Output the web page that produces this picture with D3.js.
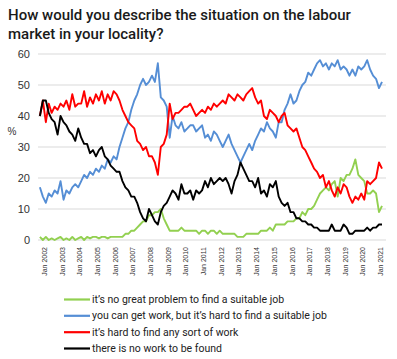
<!DOCTYPE html>
<html>
<head>
<meta charset="utf-8">
<script src="https://cdn.jsdelivr.net/npm/d3@7"></script>
<style>
  html, body { margin: 0; padding: 0; background: #fff; }
  svg { display: block; }
</style>
</head>
<body>
<svg id="chart" width="397" height="359"></svg>
<script>
// Bi-monthly observations, Oct 2001 .. Feb 2021
const startDate = new Date(2001, 9, 1);
const stepMonths = 2;

const greenNoProblem = [
  1, 0,
  1, 0, 0.5, 0, 0.5, 1,
  0, 0.5, 0, 1, 0, 0.5,
  1, 0, 1, 0.5, 1, 1,
  0.5, 1, 1, 0.5, 1, 1,
  1, 1, 1, 2, 2, 3,
  3, 4, 5, 6, 6, 8,
  8, 9, 9, 10, 7, 5,
  3, 3, 3, 3, 4, 3,
  3, 3, 3, 3, 2, 3,
  3, 2, 3, 3, 2, 3,
  2, 2, 2, 2, 2, 1,
  1, 1, 2, 2, 2, 2,
  2, 3, 3, 3, 4, 3,
  5, 5, 5, 5, 6, 6,
  6, 7, 7, 9, 8, 10,
  10, 11, 13, 15, 16, 17,
  16, 18, 19, 14, 20, 19,
  21, 21, 23, 26, 21, 20,
  19, 15, 15, 16, 15, 9,
  11
];

const blueHardSuitable = [
  17, 14,
  12, 15, 14, 16, 15, 19,
  13, 16, 15, 17, 18, 17,
  19, 21, 20, 22, 21, 23,
  22, 24, 23, 26, 25, 27,
  26, 30, 33, 36, 38, 42,
  45, 47, 50, 52, 50, 51,
  53, 51, 57, 46, 45, 43,
  33, 40, 37, 36, 38, 35,
  36, 37, 37, 35, 36, 37,
  33, 34, 32, 35, 34, 32,
  30, 32, 34, 31, 29, 27,
  25, 27, 29, 31, 29, 32,
  34, 36, 35, 38, 36, 35,
  33, 38, 38, 42, 44, 47,
  44, 45, 48, 50, 51, 54,
  53, 55, 57, 58, 56, 57,
  55, 57, 56, 58, 55, 56,
  55, 53, 55, 53, 56, 55,
  56, 58, 55, 53, 52, 49,
  51
];

const redHardAny = [
  40, 45,
  38, 44, 41, 43, 42, 44,
  43, 45, 42, 47, 43, 44,
  44, 48, 43, 46, 44, 47,
  45, 48, 44, 47, 45, 48,
  47, 45, 42, 40, 38, 37,
  36, 32, 31, 29, 30, 27,
  27, 25, 21, 30, 31, 34,
  44, 39, 41, 41, 42, 43,
  43, 44, 42, 40, 41, 42,
  41, 43, 42, 44, 43, 44,
  45, 44, 47, 46, 45, 47,
  46, 45, 47, 48, 49, 46,
  44, 45, 40, 39, 42, 41,
  40, 38, 40, 41, 37, 36,
  35, 36, 33, 30, 29, 27,
  25, 23, 22, 20, 21, 17,
  19, 16, 14, 17, 15, 18,
  17, 14, 12, 14, 13, 15,
  13, 19, 18, 19, 20, 25,
  23
];

const blackNoWork = [
  40, 45,
  45, 41, 39, 38, 34, 40,
  38, 37, 35, 34, 32, 36,
  33, 31, 31, 28, 29, 27,
  29, 30, 27, 26, 24, 23,
  22, 22, 19, 17, 16, 14,
  14, 12, 9, 7, 6, 10,
  8, 6, 5, 9, 11, 12,
  14, 16, 15, 13, 18, 15,
  15, 16, 13, 16, 15, 16,
  19, 17, 20, 18, 19, 20,
  19, 20, 18, 15, 19, 21,
  25, 23, 21, 19, 19, 17,
  20, 15, 16, 14, 18, 17,
  19, 14, 12, 11, 12, 9,
  9, 7, 7, 6, 6, 5,
  5, 4, 4, 3, 3, 3,
  3, 5, 3, 3, 3, 5,
  4, 2, 2, 3, 3, 3,
  3, 4, 3, 4, 4, 5,
  5
];

const yTicks = [0, 10, 20, 30, 40, 50, 60];
const xTickYears = d3.range(2002, 2022);
const xTickLabels = xTickYears.map(y => "Jan " + y);

const seriesNames = [
  "it\u2019s no great problem to find a suitable job",
  "you can get work, but it\u2019s hard to find a suitable job",
  "it\u2019s hard to find any sort of work",
  "there is no work to be found"
];
const seriesColors = ["#92D050", "#558ED5", "#FF0000", "#000000"];
const seriesValues = [greenNoProblem, blueHardSuitable, redHardAny, blackNoWork];

const svg = d3.select("#chart");
const fontFamily = "Roboto, 'Liberation Sans', Arial, sans-serif";

// Title
const title = svg.append("text")
  .attr("x", 8).attr("y", 20)
  .attr("font-family", fontFamily)
  .attr("font-size", 15).attr("font-weight", 500)
  .attr("fill", "#1a1a1a");
title.append("tspan").attr("x", 8).attr("y", 20).text("How would you describe the situation on the labour");
title.append("tspan").attr("x", 8).attr("y", 39).text("market in your locality?");

const n = greenNoProblem.length;
const dates = d3.range(n).map(i => d3.timeMonth.offset(startDate, i * stepMonths));

const x = d3.scaleTime()
  .domain([dates[0], dates[n - 1]])
  .range([39.9, 382]);
const y = d3.scaleLinear().domain([0, 60]).range([240, 54]);

const plotLeft = 38, plotRight = 386;

// Gridlines
svg.append("g").selectAll("line").data(yTicks).join("line")
  .attr("x1", plotLeft).attr("x2", plotRight)
  .attr("y1", d => y(d)).attr("y2", d => y(d))
  .attr("stroke", "#d9d9d9").attr("stroke-width", 1);

// Y axis labels
svg.append("g").selectAll("text").data(yTicks).join("text")
  .attr("x", 30).attr("y", d => y(d))
  .attr("text-anchor", "end").attr("dominant-baseline", "central")
  .attr("font-family", "'Liberation Sans', Arial, sans-serif")
  .attr("font-size", 11).attr("fill", "#333")
  .text(d => d);

svg.append("text")
  .attr("x", 12).attr("y", 131)
  .attr("text-anchor", "middle").attr("dominant-baseline", "central")
  .attr("font-family", "'Liberation Sans', Arial, sans-serif")
  .attr("font-size", 10).attr("fill", "#333")
  .text("%");

// X labels (rotated)
svg.append("g").selectAll("text").data(xTickYears).join("text")
  .attr("transform", d => `translate(${x(new Date(d, 0, 1)) + 2.5},247) rotate(-90)`)
  .attr("text-anchor", "end")
  .attr("font-family", "'Liberation Sans', Arial, sans-serif")
  .attr("font-size", 7).attr("fill", "#333")
  .text((d, i) => xTickLabels[i]);

// Lines
const lineGen = d3.line()
  .x((d, i) => x(dates[i]))
  .y(d => y(d));

svg.append("g").selectAll("path").data(seriesValues).join("path")
  .attr("d", d => lineGen(d))
  .attr("fill", "none")
  .attr("stroke", (d, i) => seriesColors[i])
  .attr("stroke-width", 1.9)
  .attr("stroke-linejoin", "round");

// Legend
const legendY = [299.5, 315.8, 332.2, 348.5];
const leg = svg.append("g").selectAll("g").data(seriesNames).join("g")
  .attr("transform", (d, i) => `translate(0,${legendY[i]})`);
leg.append("line")
  .attr("x1", 64).attr("x2", 90).attr("y1", 0).attr("y2", 0)
  .attr("stroke", (d, i) => seriesColors[i]).attr("stroke-width", 2.2);
leg.append("text")
  .attr("x", 92).attr("y", 0)
  .attr("dominant-baseline", "central")
  .attr("font-family", fontFamily)
  .attr("font-size", 10.5).attr("fill", "#222")
  .text(d => d);
</script>
</body>
</html>
